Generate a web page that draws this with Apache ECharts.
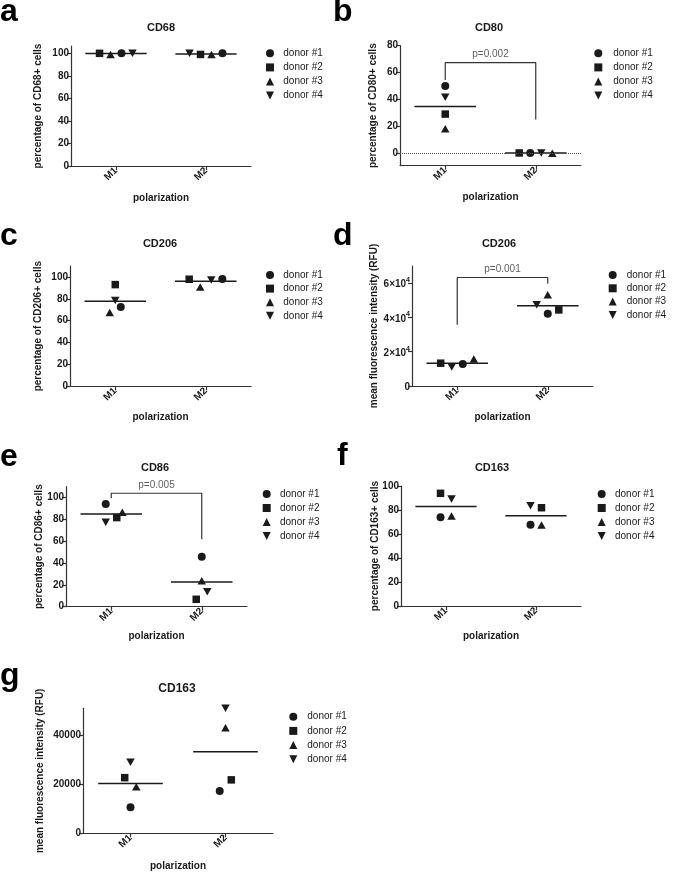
<!DOCTYPE html>
<html><head><meta charset="utf-8">
<script src="https://cdn.jsdelivr.net/npm/echarts@6/dist/echarts.min.js"></script>
<style>html,body{margin:0;padding:0;background:#fff}#c{width:675px;height:882px}</style>
</head><body><div id="c"></div>
<script>
// ---------------- DATA ----------------
const groups = ['M1', 'M2'];
const donors = ['donor #1', 'donor #2', 'donor #3', 'donor #4'];

// values per donor: [M1, M2]
const cd68Pct  = [[100, 100], [100, 99], [99, 99], [100, 100]];
const cd80Pct  = [[50, 0], [29, 0], [18, -0.3], [41.5, 0]];
const cd206Pct = [[72.5, 98.2], [93, 97.9], [67.5, 90.9], [78.5, 97.3]];
const cd206Mfi = [[12900, 42100], [13300, 44400], [15800, 53200], [11100, 47400]];
const cd86Pct  = [[94.2, 45.9], [81.7, 6.8], [86.6, 23.9], [77.4, 13.8]];
const cd163Pct = [[73.9, 67.8], [93.9, 81.9], [75, 67.5], [89.2, 83.6]];
const cd163Mfi = [[10600, 17300], [22700, 21800], [19000, 43100], [29000, 51000]];

// horizontal spread of each donor's point inside its column (category units)
const spreadA = [[0.061, 0.183], [-0.183, -0.061], [-0.061, 0.061], [0.183, -0.183]];
const spreadB = [[0, -0.061], [0, -0.183], [0, 0.183], [0, 0.061]];
const spreadC = [[0.061, 0.183], [0, -0.183], [-0.061, -0.061], [0, 0.061]];
const spreadD = [[0.061, 0], [-0.183, 0.122], [0.183, 0], [-0.061, -0.122]];
const spreadE = [[-0.061, 0], [0.061, -0.061], [0.122, 0], [-0.061, 0.061]];
const spreadF = [[-0.061, -0.061], [-0.061, 0.061], [0.061, 0.061], [0.061, -0.061]];
const spreadG = [[0, -0.061], [-0.061, 0.061], [0.061, 0], [0, 0]];

// tick values
const pctTicks = [0, 20, 40, 60, 80, 100];
const cd80Ticks = [0, 20, 40, 60, 80];
const mfiTicks = [0, 20000, 40000, 60000];
const mfi163Ticks = [0, 20000, 40000];

// significance brackets [x, y] and p-values
const cd80Bracket = [[1, 54.5], [1, 67.4], [2, 67.4], [2, 25]];
const cd80P = 'p=0.002';
const cd206MfiBracket = [[1, 35700], [1, 63300], [2, 63300], [2, 59600]];
const cd206MfiP = 'p=0.001';
const cd86Bracket = [[1, 99.5], [1, 104], [2, 104], [2, 61.8]];
const cd86P = 'p=0.005';

// ---------------- STYLE / LAYOUT ----------------
const FONT = "'Liberation Sans', Arial, Helvetica, sans-serif";
const INK = '#1a1a1a';
const AXIS = '#333';
const SYMBOLS = ['circle', 'rect', 'triangle', 'path://M0,0L10,0L5,10Z'];
const SIZES = [8, 7.5, [8.5, 7.5], [8.5, 7.5]];
const MEAN_HALF = 0.34;

const plainFmt = v => String(v);
const sciFmt = v => v === 0 ? '{b|0}' : '{b|' + (v / 10000) + '×10}{s|4}';
const sciRich = {
  b: { fontFamily: FONT, fontWeight: 'bold', fontSize: 10, color: INK, lineHeight: 13, verticalAlign: 'bottom' },
  s: { fontFamily: FONT, fontWeight: 'bold', fontSize: 7, color: INK, lineHeight: 8, verticalAlign: 'top' }
};

const panels = [
  { letter: 'a', title: 'CD68', yName: 'percentage of CD68+ cells', vals: cd68Pct, spread: spreadA, ticks: pctTicks, min: 0, max: 106.5,
    grid: [71, 46, 180, 120], letterXY: [0, 12], titleXY: [161, 28], yGap: 28, xGap: 27, leg: [266, 48.3, 4.1, 4.3] },
  { letter: 'b', title: 'CD80', yName: 'percentage of CD80+ cells', vals: cd80Pct, spread: spreadB, ticks: cd80Ticks, min: -9.5, max: 80,
    grid: [400, 45.7, 181, 120], letterXY: [333, 12.5], titleXY: [489, 28], yGap: 22, xGap: 27, leg: [594.3, 48.3, 4.1, 6],
    bracket: cd80Bracket, pText: cd80P, zero: true },
  { letter: 'c', title: 'CD206', yName: 'percentage of CD206+ cells', vals: cd206Pct, spread: spreadC, ticks: pctTicks, min: 0, max: 110,
    grid: [70, 266, 181, 120.3], letterXY: [0, 236], titleXY: [160, 244], yGap: 26.7, xGap: 26, leg: [266, 270, 3.6, 4.3] },
  { letter: 'd', title: 'CD206', yName: 'mean fluorescence intensity (RFU)', vals: cd206Mfi, spread: spreadD, ticks: mfiTicks, fmt: sciFmt, rich: sciRich, min: 0, max: 70000,
    grid: [412, 266, 181, 120], letterXY: [333, 236], titleXY: [499, 244], yGap: 33, xGap: 26, leg: [608.7, 270, 3.3, 5],
    bracket: cd206MfiBracket, pText: cd206MfiP },
  { letter: 'e', title: 'CD86', yName: 'percentage of CD86+ cells', vals: cd86Pct, spread: spreadE, ticks: pctTicks, min: 0, max: 110,
    grid: [66, 486.7, 181, 120], letterXY: [0, 457.5], titleXY: [155, 468.3], yGap: 21.7, xGap: 25, leg: [262.7, 489, 4, 4.3],
    bracket: cd86Bracket, pText: cd86P },
  { letter: 'f', title: 'CD163', yName: 'percentage of CD163+ cells', vals: cd163Pct, spread: spreadF, ticks: pctTicks, min: 0, max: 100,
    grid: [401, 486, 180, 120], letterXY: [337, 456], titleXY: [492, 468.3], yGap: 21, xGap: 25.7, leg: [597.7, 489, 4, 4.3] },
  { letter: 'g', title: 'CD163', yName: 'mean fluorescence intensity (RFU)', vals: cd163Mfi, spread: spreadG, ticks: mfi163Ticks, min: 0, max: 51000,
    grid: [83, 708.3, 190, 125], letterXY: [0, 676.5], titleXY: [177, 688.3], titleSize: 12, yGap: 38, xGap: 28.4, leg: [289.3, 711.7, 4.2, 5] }
];

const mean = a => a.reduce((s, v) => s + v, 0) / a.length;

const grids = [], xAxes = [], yAxes = [], series = [], legends = [], texts = [];

panels.forEach((p, i) => {
  grids.push({ left: p.grid[0], top: p.grid[1], width: p.grid[2], height: p.grid[3], containLabel: false });
  const lineStyle = { color: AXIS, width: 1.2 };
  xAxes.push({ type: 'value', gridIndex: i, min: 0.5, max: 2.5, show: false });
  xAxes.push({
    type: 'category', gridIndex: i, data: groups, boundaryGap: true, position: 'bottom',
    name: 'polarization', nameLocation: 'middle', nameGap: p.xGap, nameMoveOverlap: false,
    nameTextStyle: { fontFamily: FONT, fontWeight: 'bold', fontSize: 10, color: INK },
    axisLine: { show: true, onZero: false, lineStyle },
    axisTick: { show: true, length: 4, alignWithLabel: true, lineStyle },
    axisLabel: { rotate: 45, margin: 3, interval: 0,
      fontFamily: FONT, fontWeight: 'bold', fontSize: 10, color: INK },
    splitLine: { show: false }
  });
  const yLabel = { customValues: p.ticks, margin: 2, formatter: p.fmt || plainFmt,
    fontFamily: FONT, fontWeight: 'bold', fontSize: 10, color: INK };
  if (p.rich) yLabel.rich = p.rich;
  yAxes.push({
    type: 'value', gridIndex: i, min: p.min, max: p.max,
    name: p.yName, nameLocation: 'middle', nameGap: p.yGap, nameMoveOverlap: false,
    nameTextStyle: { fontFamily: FONT, fontWeight: 'bold', fontSize: 10, color: INK },
    axisLine: { show: true, onZero: false, lineStyle },
    axisTick: { show: true, length: 4, customValues: p.ticks, lineStyle },
    axisLabel: yLabel,
    splitLine: { show: false }
  });
  const xi = 2 * i;

  donors.forEach((name, k) => {
    series.push({
      type: 'scatter', name, xAxisIndex: xi, yAxisIndex: i, z: 3,
      symbol: SYMBOLS[k], symbolSize: SIZES[k], itemStyle: { color: INK, opacity: 1 },
      data: groups.map((g, j) => [j + 1 + p.spread[k][j], p.vals[k][j]])
    });
  });
  groups.forEach((g, j) => {
    const m = mean(p.vals.map(r => r[j]));
    series.push({
      type: 'line', xAxisIndex: xi, yAxisIndex: i, z: 2, silent: true,
      symbol: 'none', lineStyle: { color: INK, width: 1.5 },
      data: [[j + 1 - MEAN_HALF, m], [j + 1 + MEAN_HALF, m]]
    });
  });
  if (p.zero) {
    series.push({
      type: 'line', xAxisIndex: xi, yAxisIndex: i, z: 1, silent: true, data: [],
      markLine: { silent: true, symbol: ['none', 'none'], label: { show: false },
        lineStyle: { type: 'dotted', color: '#555', width: 1 }, data: [{ yAxis: 0 }] }
    });
  }
  if (p.bracket) {
    series.push({
      type: 'line', xAxisIndex: xi, yAxisIndex: i, z: 2, silent: true,
      symbol: 'none', lineStyle: { color: AXIS, width: 1.2 }, data: p.bracket
    });
    series.push({
      type: 'scatter', xAxisIndex: xi, yAxisIndex: i, z: 4, silent: true, symbolSize: 0,
      data: [[1.5, p.bracket[1][1]]],
      label: { show: true, position: 'top', distance: 3, formatter: p.pText,
        fontFamily: FONT, fontSize: 10, color: '#333' }
    });
  }

  legends.push({
    orient: 'vertical', left: p.leg[0], top: p.leg[1], itemGap: p.leg[2], padding: 0,
    itemWidth: 8, itemHeight: 8, selectedMode: false,
    data: donors.map((name, k) => ({ name, icon: SYMBOLS[k] })),
    itemStyle: { color: INK },
    textStyle: { fontFamily: FONT, fontSize: 10, lineHeight: 10, color: INK, padding: [0, 0, 0, p.leg[3]] }
  });

  texts.push({
    type: 'text', x: p.letterXY[0], y: p.letterXY[1], silent: true,
    style: { text: p.letter, fill: '#000', font: 'bold 32px ' + FONT, lineHeight: 20,
      align: 'left', textAlign: 'left', verticalAlign: 'middle', textVerticalAlign: 'middle' }
  });
  texts.push({
    type: 'text', x: p.titleXY[0], y: p.titleXY[1], silent: true,
    style: { text: p.title, fill: INK, font: 'bold ' + (p.titleSize || 11) + 'px ' + FONT,
      align: 'center', textAlign: 'center', verticalAlign: 'middle', textVerticalAlign: 'middle' }
  });
});

const chart = echarts.init(document.getElementById('c'), null, { renderer: 'canvas', width: 675, height: 882 });
chart.setOption({
  animation: false,
  backgroundColor: '#fff',
  grid: grids, xAxis: xAxes, yAxis: yAxes,
  legend: legends, series,
  graphic: { elements: texts }
});
</script>
</body></html>
